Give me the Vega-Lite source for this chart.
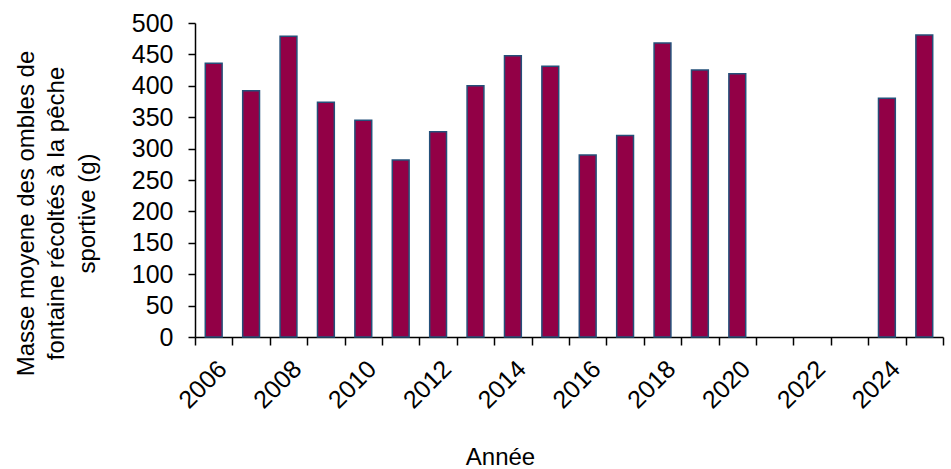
{
  "$schema": "https://vega.github.io/schema/vega-lite/v6.json",
  "autosize": "none",
  "width": 748,
  "height": 314,
  "padding": {"left": 195, "top": 23, "right": 8, "bottom": 132},
  "background": "white",
  "config": {
    "view": {"stroke": null},
    "font": "Liberation Sans",
    "axis": {
      "grid": false,
      "domainColor": "black",
      "tickColor": "black",
      "domainWidth": 1.5,
      "tickWidth": 1.5,
      "labelColor": "black",
      "titleColor": "black",
      "labelFont": "Liberation Sans",
      "titleFont": "Liberation Sans",
      "labelFontSize": 25,
      "titleFontSize": 24,
      "titleFontWeight": "normal"
    }
  },
  "data": {
    "values": [
      {"annee": 2006, "masse": 436},
      {"annee": 2007, "masse": 392},
      {"annee": 2008, "masse": 479},
      {"annee": 2009, "masse": 374},
      {"annee": 2010, "masse": 345},
      {"annee": 2011, "masse": 282},
      {"annee": 2012, "masse": 327},
      {"annee": 2013, "masse": 400},
      {"annee": 2014, "masse": 448},
      {"annee": 2015, "masse": 431},
      {"annee": 2016, "masse": 290},
      {"annee": 2017, "masse": 321},
      {"annee": 2018, "masse": 468},
      {"annee": 2019, "masse": 425},
      {"annee": 2020, "masse": 419},
      {"annee": 2024, "masse": 380},
      {"annee": 2025, "masse": 481}
    ]
  },
  "mark": {
    "type": "bar",
    "width": {"band": 0.45},
    "fill": "#920046",
    "stroke": "#24507a",
    "strokeWidth": 1.5
  },
  "encoding": {
    "x": {
      "field": "annee",
      "type": "ordinal",
      "scale": {
        "domain": [2006, 2007, 2008, 2009, 2010, 2011, 2012, 2013, 2014, 2015, 2016, 2017, 2018, 2019, 2020, 2021, 2022, 2023, 2024, 2025],
        "paddingInner": 0,
        "paddingOuter": 0
      },
      "axis": {
        "title": "Année",
        "labelAngle": -45,
        "labelAlign": "right",
        "labelBaseline": "top",
        "labelPadding": 11,
        "tickSize": 8,
        "tickBand": "extent",
        "labelExpr": "datum.value % 2 == 0 ? datum.label : ''",
        "titleAnchor": null,
        "titleX": 305,
        "titleY": 127,
        "titleAlign": "center",
        "titleBaseline": "alphabetic"
      }
    },
    "y": {
      "field": "masse",
      "type": "quantitative",
      "scale": {"domain": [0, 500], "nice": false},
      "axis": {
        "values": [0, 50, 100, 150, 200, 250, 300, 350, 400, 450, 500],
        "title": ["Masse moyene des ombles de", "fontaine récoltés à la pêche", "sportive (g)"],
        "titleAngle": -90,
        "titleAlign": "center",
        "titleBaseline": "alphabetic",
        "titleLineHeight": 30.5,
        "titleX": -162,
        "titleY": 190,
        "tickSize": 7,
        "labelPadding": 15
      }
    }
  }
}
